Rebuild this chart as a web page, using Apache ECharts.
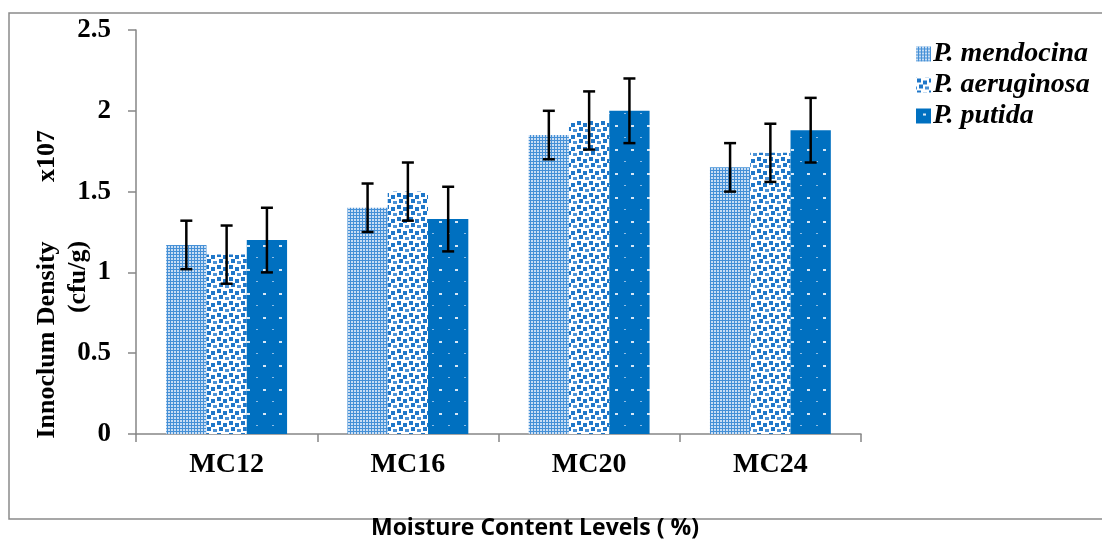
<!DOCTYPE html>
<html>
<head>
<meta charset="utf-8">
<script src="https://cdn.jsdelivr.net/npm/echarts@6/dist/echarts.min.js"></script>
<style>
html,body{margin:0;padding:0;background:#fff;}
#chart{width:1102px;height:539px;}
</style>
</head>
<body>
<div id="chart"></div>
<script>
// ---- data ----
var categories = ['MC12', 'MC16', 'MC20', 'MC24'];
var seriesNames = ['P. mendocina', 'P. aeruginosa', 'P. putida'];
var mendocina = [1.17, 1.40, 1.85, 1.65];
var aeruginosa = [1.11, 1.50, 1.94, 1.74];
var putida = [1.20, 1.33, 2.00, 1.88];
var errMendocina = [0.15, 0.15, 0.15, 0.15];
var errAeruginosa = [0.18, 0.18, 0.18, 0.18];
var errPutida = [0.20, 0.20, 0.20, 0.20];
var yTicks = [0, 0.5, 1, 1.5, 2, 2.5];

// ---- patterns ----
function tile(w, h, draw) {
  var c = document.createElement('canvas');
  c.width = w; c.height = h;
  var g = c.getContext('2d');
  draw(g);
  return c;
}
var patMendocina = tile(3, 3, function (g) {
  g.fillStyle = '#4590d6'; g.fillRect(0, 0, 3, 3);
  g.fillStyle = '#c9def4';
  g.fillRect(0, 0, 2, 2);
});
var patAeruginosa = tile(12, 12, function (g) {
  g.fillStyle = '#ffffff'; g.fillRect(0, 0, 12, 12);
  g.fillStyle = '#1f77c9';
  g.fillRect(1, 1, 4, 4);
  g.fillRect(7, 3, 4, 4);
  g.fillRect(3, 7, 4, 4);
  g.fillStyle = '#4b92d6';
  g.fillRect(9, 9, 3, 3);
  g.fillRect(0, 9, 1, 3);
});
var patPutida = tile(16, 24, function (g) {
  g.fillStyle = '#0070c0'; g.fillRect(0, 0, 16, 24);
  g.fillStyle = '#d6e7f6';
  g.fillRect(7, 5, 3, 2);
  g.fillStyle = '#8fbde6';
  g.fillRect(0, 17, 2, 1);
});
var patterns = [patMendocina, patAeruginosa, patPutida];
var values = [mendocina, aeruginosa, putida];
var errs = [errMendocina, errAeruginosa, errPutida];

var chart = echarts.init(document.getElementById('chart'));
var CAT_GAP = 0.333;

function errRender(k) {
  return function (params, api) {
    var x = api.value(0), lo = api.value(1), hi = api.value(2);
    var pLo = api.coord([x, lo]);
    var pHi = api.coord([x, hi]);
    var band = api.size([1, 0])[0];
    var bw = band * (1 - CAT_GAP) / 3;
    var cx = pLo[0] + (k - 1) * bw;
    var cap = 6;
    var st = { stroke: '#000', lineWidth: 2.5 };
    return {
      type: 'group',
      children: [
        { type: 'line', shape: { x1: cx, y1: pLo[1], x2: cx, y2: pHi[1] }, style: st },
        { type: 'line', shape: { x1: cx - cap, y1: pLo[1], x2: cx + cap, y2: pLo[1] }, style: st },
        { type: 'line', shape: { x1: cx - cap, y1: pHi[1], x2: cx + cap, y2: pHi[1] }, style: st }
      ]
    };
  };
}

var series = [];
for (var k = 0; k < 3; k++) {
  series.push({
    name: seriesNames[k],
    type: 'bar',
    data: values[k],
    barGap: '0%',
    barCategoryGap: (CAT_GAP * 100) + '%',
    itemStyle: { color: { image: patterns[k], repeat: 'repeat' } },
    emphasis: { disabled: true }
  });
}
for (var k2 = 0; k2 < 3; k2++) {
  var d = [];
  for (var i = 0; i < categories.length; i++) {
    d.push([i, values[k2][i] - errs[k2][i], values[k2][i] + errs[k2][i]]);
  }
  series.push({
    type: 'custom',
    renderItem: errRender(k2),
    data: d,
    encode: { x: 0, y: [1, 2] },
    z: 10,
    silent: true
  });
}

var serif = '"Liberation Serif", "Times New Roman", serif';

chart.setOption({
  animation: false,
  grid: { left: 136, right: 241, top: 30, bottom: 105 },
  legend: {
    data: seriesNames,
    orient: 'vertical',
    left: 911,
    top: 35,
    itemWidth: 15,
    itemHeight: 15,
    itemGap: 3,
    icon: 'rect',
    selectedMode: false,
    textStyle: { fontFamily: serif, fontWeight: 'bold', fontStyle: 'italic', fontSize: 28, color: '#000', padding: [0, 0, 0, -3] }
  },
  xAxis: {
    type: 'category',
    data: categories,
    axisLine: { lineStyle: { color: '#868686', width: 1.5 } },
    axisTick: { show: true, length: 8, lineStyle: { color: '#868686', width: 1.5 } },
    axisLabel: { fontFamily: serif, fontWeight: 'bold', fontSize: 28, color: '#000', margin: 17 }
  },
  yAxis: {
    type: 'value',
    min: yTicks[0],
    max: yTicks[yTicks.length - 1],
    interval: 0.5,
    splitLine: { show: false },
    axisLine: { show: true, lineStyle: { color: '#868686', width: 1.5 } },
    axisTick: { show: true, length: 8, lineStyle: { color: '#868686', width: 1.5 } },
    axisLabel: { fontFamily: serif, fontWeight: 'bold', fontSize: 27, color: '#000', margin: 25 }
  },
  graphic: [
    { type: 'rect', shape: { x: 9, y: 13, width: 1110, height: 506 }, style: { fill: 'none', stroke: '#8a8a8a', lineWidth: 1.5 }, silent: true },
    { type: 'text', x: 47, y: 340, rotation: Math.PI / 2,
      style: { text: 'Innoclum Density', font: 'bold 26px ' + serif, fill: '#000', align: 'center', verticalAlign: 'middle' } },
    { type: 'text', x: 47, y: 156, rotation: Math.PI / 2,
      style: { text: 'x107', font: 'bold 26px ' + serif, fill: '#000', align: 'center', verticalAlign: 'middle' } },
    { type: 'text', x: 78, y: 277, rotation: Math.PI / 2,
      style: { text: '(cfu/g)', font: 'bold 26px ' + serif, fill: '#000', align: 'center', verticalAlign: 'middle' } },
    { type: 'text', x: 535, y: 528,
      style: { text: 'Moisture Content Levels ( %)', font: 'bold 23px "Open Sans", sans-serif', fill: '#000', align: 'center', verticalAlign: 'middle' } }
  ],
  series: series
});
</script>
</body>
</html>
